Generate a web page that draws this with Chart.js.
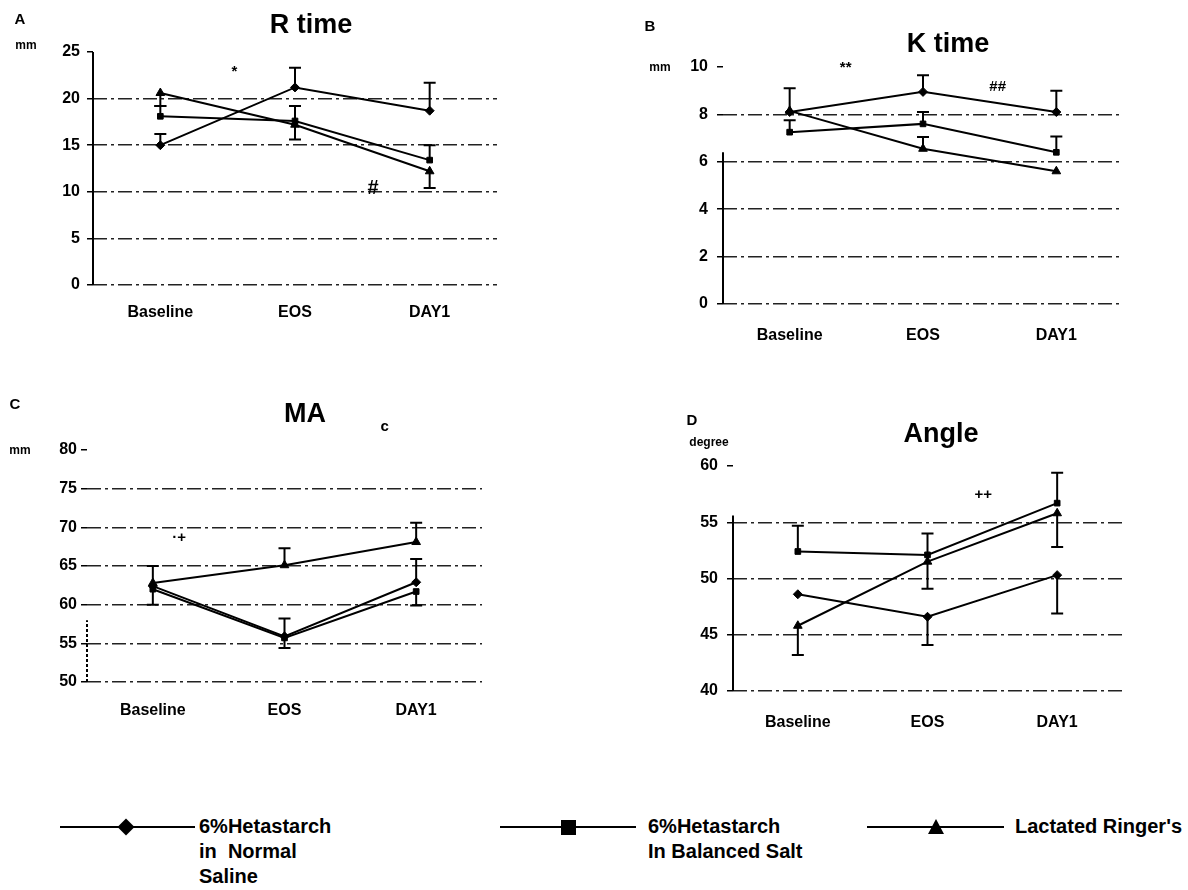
<!DOCTYPE html>
<html lang="en">
<head>
<meta charset="UTF-8">
<title>TEG parameters by fluid group</title>
<script src="https://cdn.jsdelivr.net/npm/chart.js"></script>
<style>
  body { margin: 0; background: #fff; width: 1188px; height: 890px; position: relative; overflow: hidden;
         font-family: "Liberation Sans", Arial, sans-serif; font-weight: bold; color: #000; }
  canvas { position: absolute; }
  .lbl { position: absolute; transform: translate(-50%, -50%); white-space: nowrap; line-height: 1; z-index: 2; }
  .title { font-size: 27px; }
  .letter { font-size: 15px; }
  .unit { font-size: 12px; }
  .legline { position: absolute; height: 2px; background: #000; }
  .legtxt { position: absolute; font-size: 20px; line-height: 25px; }
  .mk { position: absolute; background: #000; }
</style>
</head>
<body>

<div class="lbl letter" style="left:20px;top:18px">A</div>
<div class="lbl unit" style="left:26px;top:45px">mm</div>
<div class="lbl title" style="left:311px;top:24px">R time</div>

<div class="lbl letter" style="left:650px;top:25px">B</div>
<div class="lbl unit" style="left:660px;top:67px">mm</div>
<div class="lbl title" style="left:948px;top:43px">K time</div>

<div class="lbl letter" style="left:15px;top:403px">C</div>
<div class="lbl unit" style="left:20px;top:450px">mm</div>
<div class="lbl title" style="left:305px;top:413px">MA</div>

<div class="lbl letter" style="left:692px;top:419px">D</div>
<div class="lbl unit" style="left:709px;top:442px">degree</div>
<div class="lbl title" style="left:941px;top:433px">Angle</div>

<canvas id="cA"></canvas>
<canvas id="cB"></canvas>
<canvas id="cC"></canvas>
<canvas id="cD"></canvas>

<!-- legend -->
<div class="legline" style="left:60px;top:826px;width:135px"></div>
<div class="mk" style="left:120px;top:821px;width:12px;height:12px;transform:rotate(45deg)"></div>
<div class="legtxt" style="left:199px;top:814px">6%Hetastarch<br>in&nbsp; Normal<br>Saline</div>

<div class="legline" style="left:500px;top:826px;width:136px"></div>
<div class="mk" style="left:561px;top:820px;width:15px;height:15px"></div>
<div class="legtxt" style="left:648px;top:814px">6%Hetastarch<br>In Balanced Salt</div>

<div class="legline" style="left:867px;top:826px;width:137px"></div>
<div style="position:absolute;left:928px;top:819px;width:0;height:0;border-left:8px solid transparent;border-right:8px solid transparent;border-bottom:15px solid #000"></div>
<div class="legtxt" style="left:1015px;top:814px">Lactated Ringer's</div>

<script>
  const categories = ['Baseline', 'EOS', 'DAY1'];
  const seriesNames = ['6%Hetastarch in Normal Saline', '6%Hetastarch in Balanced Salt', "Lactated Ringer's"];

  // R time (mm): means, upper and lower error-bar ends
  const rNS = [15.0, 21.2, 18.7],   rNSHi = [16.2, 23.3, 21.7], rNSLo = [null, null, null];
  const rBS = [18.1, 17.6, 13.4],   rBSHi = [19.2, 19.2, 15.0], rBSLo = [null, null, null];
  const rLR = [20.6, 17.2, 12.2],   rLRHi = [null, null, null], rLRLo = [19.2, 15.6, 10.4];
  const rTicks = [0, 25, 5];

  // K time (mm)
  const kNS = [8.1, 8.95, 8.1],     kNSHi = [9.1, 9.65, 9.0],   kNSLo = [null, null, null];
  const kBS = [7.25, 7.6, 6.4],     kBSHi = [7.75, 8.1, 7.07],  kBSLo = [null, null, null];
  const kLR = [8.15, 6.55, 5.6],    kLRHi = [null, 7.05, null], kLRLo = [null, null, null];
  const kTicks = [0, 10, 2];

  // MA (mm)
  const mNS = [62.4, 55.9, 62.9],   mNSHi = [65.0, null, 65.9], mNSLo = [null, 54.4, null];
  const mBS = [62.0, 55.7, 61.7],   mBSHi = [null, 58.2, null], mBSLo = [60.0, null, 59.9];
  const mLR = [62.8, 65.1, 68.1],   mLRHi = [null, 67.3, 70.6], mLRLo = [null, null, null];
  const mTicks = [50, 80, 5];

  // Angle (degree)
  const aNS = [48.6, 46.6, 50.3],   aNSHi = [null, null, null], aNSLo = [null, 44.1, 46.9];
  const aBS = [52.4, 52.1, 56.7],   aBSHi = [54.7, 54.0, 59.4], aBSLo = [null, null, null];
  const aLR = [45.8, 51.5, 55.8],   aLRHi = [null, null, null], aLRLo = [43.2, 49.1, 52.8];
  const aTicks = [40, 60, 5];

  // significance marks: text, category position, value
  const rMarks = [['*', 0.55, 22.85], ['#', 1.58, 10.4]];
  const kMarks = [['**', 0.42, 9.96], ['##', 1.56, 9.16]];
  const mMarks = [['\u00b7+', 0.2, 68.6], ['c', 1.76, 83]];
  const aMarks = [['++', 1.43, 57.4]];

  const pointStyles = ['rectRot', 'rect', 'triangle'];
  const pointRadii = [4.5, 4, 5];

  const errorBars = {
    id: 'errorBars',
    afterDatasetsDraw(chart, args, opts) {
      const { ctx, scales: { x, y }, chartArea } = chart;
      ctx.save();
      ctx.strokeStyle = '#000';
      ctx.lineWidth = 2;
      chart.data.datasets.forEach(ds => {
        ds.data.forEach((v, i) => {
          [ds.hi[i], ds.lo[i]].forEach(b => {
            if (b == null) return;
            const px = x.getPixelForValue(i);
            const y0 = y.getPixelForValue(v);
            const y1 = y.getPixelForValue(b);
            ctx.beginPath();
            ctx.moveTo(px, y0); ctx.lineTo(px, y1);
            ctx.moveTo(px - 6, y1); ctx.lineTo(px + 6, y1);
            ctx.stroke();
          });
        });
      });
      // vertical axis line
      ctx.setLineDash(opts.axisDash || []);
      ctx.beginPath();
      ctx.moveTo(chartArea.left, y.getPixelForValue(opts.axisSpan[0]));
      ctx.lineTo(chartArea.left, y.getPixelForValue(opts.axisSpan[1]));
      ctx.stroke();
      ctx.setLineDash([]);
      // marks
      ctx.fillStyle = '#000';
      ctx.textAlign = 'center';
      ctx.textBaseline = 'middle';
      (opts.marks || []).forEach(m => {
        ctx.font = 'bold ' + (m[0] === '#' ? 20 : 15) + 'px "Liberation Sans", Arial, sans-serif';
        ctx.fillText(m[0], x.getPixelForValue(m[1]), y.getPixelForValue(m[2]));
      });
      ctx.restore();
    }
  };

  const panels = [
    { id: 'cA', box: [0, 0, 594, 345], area: [93, 52, 497, 285], ticks: rTicks, yPad: 7, xPad: 18,
      axisSpan: [0, 25], axisDash: [], marks: rMarks,
      series: [[rNS, rNSHi, rNSLo], [rBS, rBSHi, rBSLo], [rLR, rLRHi, rLRLo]] },
    { id: 'cB', box: [594, 0, 594, 350], area: [723, 67, 1123, 304], ticks: kTicks, yPad: 9, xPad: 22,
      axisSpan: [0, 6.4], axisDash: [], marks: kMarks,
      series: [[kNS, kNSHi, kNSLo], [kBS, kBSHi, kBSLo], [kLR, kLRHi, kLRLo]] },
    { id: 'cC', box: [0, 360, 594, 370], area: [87, 450, 482, 682], ticks: mTicks, yPad: 4, xPad: 19,
      axisSpan: [50, 58], axisDash: [3, 2], marks: mMarks,
      series: [[mNS, mNSHi, mNSLo], [mBS, mBSHi, mBSLo], [mLR, mLRHi, mLRLo]] },
    { id: 'cD', box: [594, 380, 594, 370], area: [733, 466, 1122, 691], ticks: aTicks, yPad: 9, xPad: 22,
      axisSpan: [40, 55.6], axisDash: [], marks: aMarks,
      series: [[aNS, aNSHi, aNSLo], [aBS, aBSHi, aBSLo], [aLR, aLRHi, aLRLo]] }
  ];

  const Y_W = 40, X_H = 45;
  const tickFont = { family: '"Liberation Sans", Arial, sans-serif', size: 16, weight: 'bold' };

  panels.forEach(p => {
    const [bx, by, bw, bh] = p.box;
    const [L, T, R, B] = p.area;
    const canvas = document.getElementById(p.id);
    canvas.width = bw; canvas.height = bh;
    canvas.style.left = bx + 'px'; canvas.style.top = by + 'px';
    const [yMin, yMax, yStep] = p.ticks;

    new Chart(canvas, {
      type: 'line',
      data: {
        labels: categories,
        datasets: p.series.map((s, i) => ({
          label: seriesNames[i],
          data: s[0],
          hi: s[1],
          lo: s[2],
          borderColor: '#000',
          backgroundColor: '#000',
          borderWidth: 2,
          tension: 0,
          pointStyle: pointStyles[i],
          pointRadius: pointRadii[i],
          pointBorderWidth: 1
        }))
      },
      options: {
        responsive: false,
        animation: false,
        events: [],
        layout: { padding: { left: L - bx - Y_W, top: T - by, right: bx + bw - R, bottom: by + bh - B - X_H } },
        plugins: {
          legend: { display: false },
          tooltip: { enabled: false },
          errorBars: { axisSpan: p.axisSpan, axisDash: p.axisDash, marks: p.marks }
        },
        scales: {
          x: {
            offset: true,
            grid: { display: false, drawTicks: false },
            border: { display: false },
            ticks: { color: '#000', font: tickFont, padding: p.xPad, maxRotation: 0 },
            afterFit: s => { s.height = X_H; }
          },
          y: {
            min: yMin,
            max: yMax,
            ticks: { stepSize: yStep, color: '#000', font: tickFont, padding: p.yPad },
            grid: {
              color: c => (c.tick && c.tick.value === yMax) ? 'rgba(0,0,0,0)' : '#222',
              lineWidth: 1.5,
              tickLength: 6,
              tickColor: '#000',
              tickWidth: 1.5
            },
            border: { display: false, dash: [14, 4, 3, 4] },
            afterFit: s => { s.width = Y_W; }
          }
        }
      },
      plugins: [errorBars]
    });
  });
</script>

</body>
</html>
